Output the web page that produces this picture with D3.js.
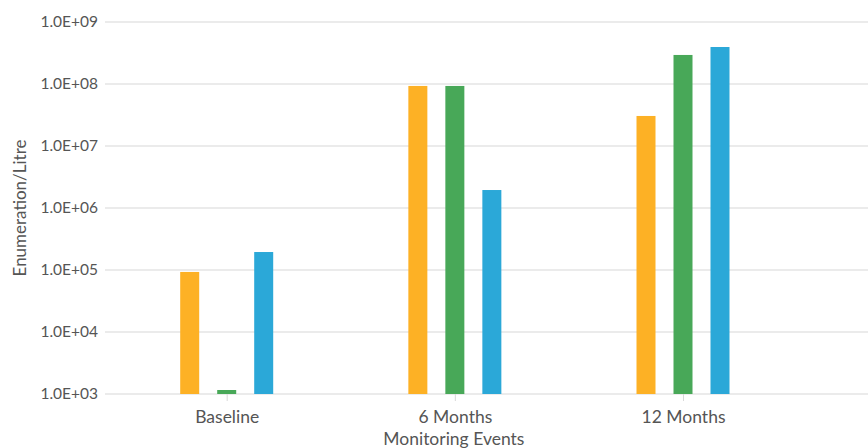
<!DOCTYPE html>
<html>
<head>
<meta charset="utf-8">
<script src="https://cdn.jsdelivr.net/npm/d3@7"></script>
<style>
  html, body { margin: 0; padding: 0; background: #fff; }
  svg { display: block; font-family: Lato, "Open Sans", sans-serif; }
</style>
</head>
<body>
<svg id="chart" width="868" height="448"></svg>
<script>
const categories = ["Baseline", "6 Months", "12 Months"];
const seriesA = [9.3e4, 9.3e7, 3.05e7];
const seriesB = [1.16e3, 9.3e7, 2.94e8];
const seriesC = [1.95e5, 1.95e6, 3.95e8];
const yTicks = [1e3, 1e4, 1e5, 1e6, 1e7, 1e8, 1e9];
const colors = ["#FDB125", "#48A858", "#2BA8D8"];
const xTitle = "Monitoring Events";
const yTitle = "Enumeration/Litre";

const series = [seriesA, seriesB, seriesC];
const svg = d3.select("#chart");

const plotLeft = 105, plotRight = 868, plotTop = 22, plotBottom = 394;
const y = d3.scaleLog().domain([1e3, 1e9]).range([plotBottom, plotTop]);
const x = d3.scalePoint().domain(categories).range([226.7, 683]);
const barW = 19;
const step = 37;

// gridlines
svg.append("g")
  .selectAll("line")
  .data(yTicks)
  .join("line")
  .attr("x1", plotLeft).attr("x2", plotRight)
  .attr("y1", d => y(d)).attr("y2", d => y(d))
  .attr("stroke", "#e4e4e4").attr("stroke-width", 1.5);

// y axis labels
const fmt = d => {
  const e = Math.round(Math.log10(d));
  return "1.0E+" + String(e).padStart(2, "0");
};
const yAxis = d3.axisLeft(y).tickValues(yTicks).tickFormat(fmt).tickSize(0).tickPadding(7);
const yg = svg.append("g").attr("transform", `translate(${plotLeft},0)`).call(yAxis);
yg.select(".domain").remove();
yg.selectAll("text").attr("fill", "#555").style("font-size", "15.5px").style("font-family", "Lato");

// bars
const flat = [];
series.forEach((s, si) => s.forEach((v, ci) => flat.push({si, ci, v})));
svg.append("g")
  .selectAll("rect")
  .data(flat)
  .join("rect")
  .attr("x", d => x(categories[d.ci]) + (d.si - 1) * step - barW / 2)
  .attr("width", barW)
  .attr("y", d => y(d.v))
  .attr("height", d => plotBottom - y(d.v))
  .attr("fill", d => colors[d.si]);

// x axis
const xAxis = d3.axisBottom(x).tickSize(7).tickPadding(0);
const xg = svg.append("g").attr("transform", `translate(0,${plotBottom})`).call(xAxis);
xg.select(".domain").remove();
xg.selectAll(".tick line").attr("stroke", "#d9d9d9");
xg.selectAll("text").attr("fill", "#555").attr("dy", null).attr("y", 29)
  .style("font-size", "17.5px").style("font-family", "Lato");

// axis titles
svg.append("text")
  .attr("x", x(categories[1]) - 1)
  .attr("y", 445)
  .attr("text-anchor", "middle")
  .attr("fill", "#555")
  .style("font-size", "17.5px")
  .text(xTitle);

svg.append("text")
  .attr("transform", `translate(26,${208}) rotate(-90)`)
  .attr("text-anchor", "middle")
  .attr("fill", "#555")
  .style("font-size", "17px")
  .text(yTitle);
</script>
</body>
</html>
